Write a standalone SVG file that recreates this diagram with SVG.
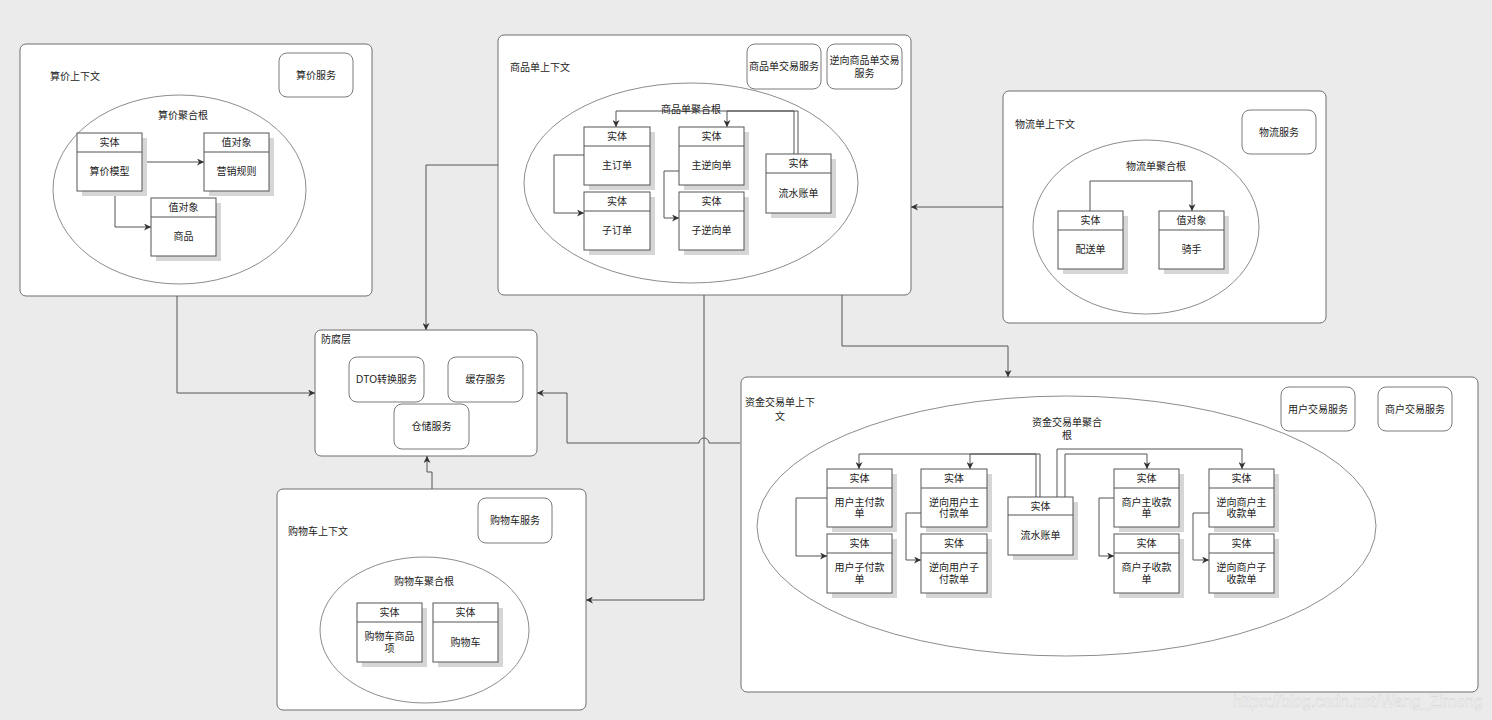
<svg xmlns="http://www.w3.org/2000/svg" width="1492" height="720" viewBox="0 0 1492 720">
<defs>
<style>
.bg{fill:#ebebeb}
.ctx{fill:#fff;stroke:#6e6e6e;stroke-width:1}
.svc{fill:#fff;stroke:#7a7a7a;stroke-width:1}
.ell{fill:#fff;stroke:#6e6e6e;stroke-width:0.8}
.box{fill:#fff;stroke:#555;stroke-width:1}
.sh{fill:#d6d6d6}
.sep{stroke:#555;stroke-width:1}
text{font-family:"Liberation Sans","Noto Sans CJK SC",sans-serif;font-size:10px;fill:#222}
.c{text-anchor:middle;dominant-baseline:central}
.l{text-anchor:start;dominant-baseline:central}
.edge{fill:none;stroke:#555;stroke-width:1}
.wm{font-size:16px;fill:#f7f7f7;stroke:#cfcfcf;stroke-width:0.4}
</style>
<marker id="arr" viewBox="0 0 10 10" refX="10" refY="5" markerWidth="7" markerHeight="7" orient="auto" markerUnits="userSpaceOnUse">
<path d="M0,0 L10,5 L0,10 L3,5 z" fill="#333"/>
</marker>
</defs>
<rect class="bg" x="0" y="0" width="1492" height="720"/>

<!-- Context containers -->
<g id="ctx-pricing">
<rect class="ctx" x="20" y="44" width="352" height="252" rx="6"/>
<text class="l" x="50" y="76">算价上下文</text>
<rect class="svc" x="279" y="53" width="74" height="44" rx="8"/>
<text class="c" x="316" y="75">算价服务</text>
<ellipse class="ell" cx="179.5" cy="189.5" rx="126.5" ry="94.5"/>
<text class="c" x="183" y="115">算价聚合根</text>
</g>

<g id="ctx-product">
<rect class="ctx" x="498" y="35" width="413" height="260" rx="6"/>
<text class="l" x="510" y="67">商品单上下文</text>
<rect class="svc" x="747" y="44" width="74" height="45" rx="8"/>
<text class="c" x="784" y="66.5">商品单交易服务</text>
<rect class="svc" x="827" y="44" width="75" height="45" rx="8"/>
<text class="c" x="864.5" y="60">逆向商品单交易</text>
<text class="c" x="864.5" y="73">服务</text>
<ellipse class="ell" cx="691" cy="183" rx="167" ry="100"/>
</g>

<g id="ctx-logistics">
<rect class="ctx" x="1003" y="91" width="323" height="232" rx="6"/>
<text class="l" x="1015" y="124">物流单上下文</text>
<rect class="svc" x="1242" y="110" width="74" height="44" rx="8"/>
<text class="c" x="1279" y="132">物流服务</text>
<ellipse class="ell" cx="1146" cy="227" rx="113" ry="87"/>
<text class="c" x="1156" y="166">物流单聚合根</text>
</g>

<g id="ctx-acl">
<rect class="ctx" x="315" y="330" width="222" height="126" rx="6"/>
<text class="l" x="321" y="339">防腐层</text>
<rect class="svc" x="349" y="357" width="75" height="45" rx="8"/>
<text class="c" x="386.5" y="379.5">DTO转换服务</text>
<rect class="svc" x="448" y="357" width="75" height="45" rx="8"/>
<text class="c" x="485.5" y="379.5">缓存服务</text>
<rect class="svc" x="394" y="404" width="75" height="45" rx="8"/>
<text class="c" x="431.5" y="426.5">仓储服务</text>
</g>

<g id="ctx-cart">
<rect class="ctx" x="277" y="489" width="309" height="221" rx="6"/>
<text class="l" x="288" y="531">购物车上下文</text>
<rect class="svc" x="478" y="498" width="74" height="45" rx="8"/>
<text class="c" x="515" y="520.5">购物车服务</text>
<ellipse class="ell" cx="424.5" cy="630" rx="104.5" ry="73"/>
<text class="c" x="424" y="581">购物车聚合根</text>
</g>

<g id="ctx-funds">
<rect class="ctx" x="741" y="377" width="737" height="315" rx="6"/>
<text class="c" x="780" y="402">资金交易单上下</text>
<text class="c" x="780" y="416">文</text>
<rect class="svc" x="1281" y="387" width="74" height="44" rx="8"/>
<text class="c" x="1318" y="409">用户交易服务</text>
<rect class="svc" x="1378" y="387" width="74" height="44" rx="8"/>
<text class="c" x="1415" y="409">商户交易服务</text>
<ellipse class="ell" cx="1066.5" cy="526" rx="309.5" ry="130"/>
</g>

<!-- Connectors -->
<g id="connectors">
<path class="edge" d="M142,162 H204" marker-end="url(#arr)"/>
<path class="edge" d="M115,191 V227 H151" marker-end="url(#arr)"/>
<path class="edge" d="M798,154 V111 H616 V127" marker-end="url(#arr)"/>
<path class="edge" d="M794,154 V111 H727 V127" marker-end="url(#arr)"/>
<path class="edge" d="M584,155 H554 V213 H584" marker-end="url(#arr)"/>
<path class="edge" d="M679,171 H664 V218 H679" marker-end="url(#arr)"/>
<path class="edge" d="M1090,211 V181 H1192 V211" marker-end="url(#arr)"/>
<path class="edge" d="M1040,497 V454 H859 V469" marker-end="url(#arr)"/>
<path class="edge" d="M1036,497 V454 H970 V469" marker-end="url(#arr)"/>
<path class="edge" d="M1057,497 V449 H1242 V469" marker-end="url(#arr)"/>
<path class="edge" d="M1065,497 V454 H1147 V469" marker-end="url(#arr)"/>
<path class="edge" d="M827,498 H796 V556 H827" marker-end="url(#arr)"/>
<path class="edge" d="M921,513 H906 V560 H921" marker-end="url(#arr)"/>
<path class="edge" d="M1114,498 H1099 V556 H1114" marker-end="url(#arr)"/>
<path class="edge" d="M1209,513 H1193 V560 H1209" marker-end="url(#arr)"/>
<path class="edge" d="M177,296 V393 H315" marker-end="url(#arr)"/>
<path class="edge" d="M498,165 H426 V330" marker-end="url(#arr)"/>
<path class="edge" d="M740,443 H709 A5,5 0 0 0 699,443 H567 V393 H537" marker-end="url(#arr)"/>
<path class="edge" d="M432,489 V472 H427 V456" marker-end="url(#arr)"/>
<path class="edge" d="M704,295 V600 H586" marker-end="url(#arr)"/>
<path class="edge" d="M842,295 V346 H1008 V377" marker-end="url(#arr)"/>
<path class="edge" d="M1003,207 H911" marker-end="url(#arr)"/>
</g>

<!-- Aggregate root labels drawn over lines -->
<text id="lbl-product-root" class="c" x="691" y="109">商品单聚合根</text>
<g id="lbl-funds-root">
<text class="c" x="1067" y="422">资金交易单聚合</text>
<text class="c" x="1067" y="435">根</text>
</g>

<!-- Class nodes -->
<g id="n-pricing-model" transform="translate(77,133)">
<rect class="sh" x="5" y="5" width="65" height="58"/><rect class="box" width="65" height="58"/><line class="sep" x1="0" y1="19" x2="65" y2="19"/>
<text class="c" x="32.5" y="9.5">实体</text><text class="c" x="32.5" y="38.5">算价模型</text></g>
<g id="n-promo-rule" transform="translate(204,133)">
<rect class="sh" x="5" y="5" width="65" height="58"/><rect class="box" width="65" height="58"/><line class="sep" x1="0" y1="19" x2="65" y2="19"/>
<text class="c" x="32.5" y="9.5">值对象</text><text class="c" x="32.5" y="38.5">营销规则</text></g>
<g id="n-goods" transform="translate(151,198)">
<rect class="sh" x="5" y="5" width="65" height="58"/><rect class="box" width="65" height="58"/><line class="sep" x1="0" y1="19" x2="65" y2="19"/>
<text class="c" x="32.5" y="9.5">值对象</text><text class="c" x="32.5" y="38.5">商品</text></g>

<g id="n-main-order" transform="translate(584,127)">
<rect class="sh" x="5" y="5" width="66" height="58"/><rect class="box" width="66" height="58"/><line class="sep" x1="0" y1="19" x2="66" y2="19"/>
<text class="c" x="33" y="9.5">实体</text><text class="c" x="33" y="38.5">主订单</text></g>
<g id="n-sub-order" transform="translate(584,192)">
<rect class="sh" x="5" y="5" width="66" height="58"/><rect class="box" width="66" height="58"/><line class="sep" x1="0" y1="19" x2="66" y2="19"/>
<text class="c" x="33" y="9.5">实体</text><text class="c" x="33" y="38.5">子订单</text></g>
<g id="n-main-reverse" transform="translate(679,127)">
<rect class="sh" x="5" y="5" width="65" height="58"/><rect class="box" width="65" height="58"/><line class="sep" x1="0" y1="19" x2="65" y2="19"/>
<text class="c" x="32.5" y="9.5">实体</text><text class="c" x="32.5" y="38.5">主逆向单</text></g>
<g id="n-sub-reverse" transform="translate(679,192)">
<rect class="sh" x="5" y="5" width="65" height="58"/><rect class="box" width="65" height="58"/><line class="sep" x1="0" y1="19" x2="65" y2="19"/>
<text class="c" x="32.5" y="9.5">实体</text><text class="c" x="32.5" y="38.5">子逆向单</text></g>
<g id="n-product-ledger" transform="translate(766,154)">
<rect class="sh" x="5" y="5" width="65" height="59"/><rect class="box" width="65" height="59"/><line class="sep" x1="0" y1="19" x2="65" y2="19"/>
<text class="c" x="32.5" y="9.5">实体</text><text class="c" x="32.5" y="39">流水账单</text></g>

<g id="n-delivery" transform="translate(1058,211)">
<rect class="sh" x="5" y="5" width="65" height="58"/><rect class="box" width="65" height="58"/><line class="sep" x1="0" y1="19" x2="65" y2="19"/>
<text class="c" x="32.5" y="9.5">实体</text><text class="c" x="32.5" y="38.5">配送单</text></g>
<g id="n-rider" transform="translate(1159,211)">
<rect class="sh" x="5" y="5" width="65" height="58"/><rect class="box" width="65" height="58"/><line class="sep" x1="0" y1="19" x2="65" y2="19"/>
<text class="c" x="32.5" y="9.5">值对象</text><text class="c" x="32.5" y="38.5">骑手</text></g>

<g id="n-cart-item" transform="translate(357,603)">
<rect class="sh" x="5" y="5" width="65" height="59"/><rect class="box" width="65" height="59"/><line class="sep" x1="0" y1="19" x2="65" y2="19"/>
<text class="c" x="32.5" y="9.5">实体</text><text class="c" x="32.5" y="33">购物车商品</text><text class="c" x="32.5" y="45.5">项</text></g>
<g id="n-cart" transform="translate(433,603)">
<rect class="sh" x="5" y="5" width="65" height="59"/><rect class="box" width="65" height="59"/><line class="sep" x1="0" y1="19" x2="65" y2="19"/>
<text class="c" x="32.5" y="9.5">实体</text><text class="c" x="32.5" y="39">购物车</text></g>

<g id="n-user-main-pay" transform="translate(827,469)">
<rect class="sh" x="5" y="5" width="65" height="58"/><rect class="box" width="65" height="58"/><line class="sep" x1="0" y1="19" x2="65" y2="19"/>
<text class="c" x="32.5" y="9.5">实体</text><text class="c" x="32.5" y="33">用户主付款</text><text class="c" x="32.5" y="44.5">单</text></g>
<g id="n-user-sub-pay" transform="translate(827,534)">
<rect class="sh" x="5" y="5" width="65" height="59"/><rect class="box" width="65" height="59"/><line class="sep" x1="0" y1="19" x2="65" y2="19"/>
<text class="c" x="32.5" y="9.5">实体</text><text class="c" x="32.5" y="33">用户子付款</text><text class="c" x="32.5" y="45">单</text></g>
<g id="n-rev-user-main-pay" transform="translate(921,469)">
<rect class="sh" x="5" y="5" width="66" height="58"/><rect class="box" width="66" height="58"/><line class="sep" x1="0" y1="19" x2="66" y2="19"/>
<text class="c" x="33" y="9.5">实体</text><text class="c" x="33" y="33">逆向用户主</text><text class="c" x="33" y="44.5">付款单</text></g>
<g id="n-rev-user-sub-pay" transform="translate(921,534)">
<rect class="sh" x="5" y="5" width="66" height="59"/><rect class="box" width="66" height="59"/><line class="sep" x1="0" y1="19" x2="66" y2="19"/>
<text class="c" x="33" y="9.5">实体</text><text class="c" x="33" y="33">逆向用户子</text><text class="c" x="33" y="45">付款单</text></g>
<g id="n-funds-ledger" transform="translate(1008,497)">
<rect class="sh" x="5" y="5" width="65" height="58"/><rect class="box" width="65" height="58"/><line class="sep" x1="0" y1="18" x2="65" y2="18"/>
<text class="c" x="32.5" y="9">实体</text><text class="c" x="32.5" y="38">流水账单</text></g>
<g id="n-mer-main-recv" transform="translate(1114,469)">
<rect class="sh" x="5" y="5" width="65" height="58"/><rect class="box" width="65" height="58"/><line class="sep" x1="0" y1="19" x2="65" y2="19"/>
<text class="c" x="32.5" y="9.5">实体</text><text class="c" x="32.5" y="33">商户主收款</text><text class="c" x="32.5" y="44.5">单</text></g>
<g id="n-mer-sub-recv" transform="translate(1114,534)">
<rect class="sh" x="5" y="5" width="65" height="59"/><rect class="box" width="65" height="59"/><line class="sep" x1="0" y1="19" x2="65" y2="19"/>
<text class="c" x="32.5" y="9.5">实体</text><text class="c" x="32.5" y="33">商户子收款</text><text class="c" x="32.5" y="45">单</text></g>
<g id="n-rev-mer-main-recv" transform="translate(1209,469)">
<rect class="sh" x="5" y="5" width="65" height="58"/><rect class="box" width="65" height="58"/><line class="sep" x1="0" y1="19" x2="65" y2="19"/>
<text class="c" x="32.5" y="9.5">实体</text><text class="c" x="32.5" y="33">逆向商户主</text><text class="c" x="32.5" y="44.5">收款单</text></g>
<g id="n-rev-mer-sub-recv" transform="translate(1209,534)">
<rect class="sh" x="5" y="5" width="65" height="59"/><rect class="box" width="65" height="59"/><line class="sep" x1="0" y1="19" x2="65" y2="19"/>
<text class="c" x="32.5" y="9.5">实体</text><text class="c" x="32.5" y="33">逆向商户子</text><text class="c" x="32.5" y="45">收款单</text></g>

<text class="wm" x="1233" y="707" textLength="250">https://blog.csdn.net/Wang_Zimeng</text>
</svg>
